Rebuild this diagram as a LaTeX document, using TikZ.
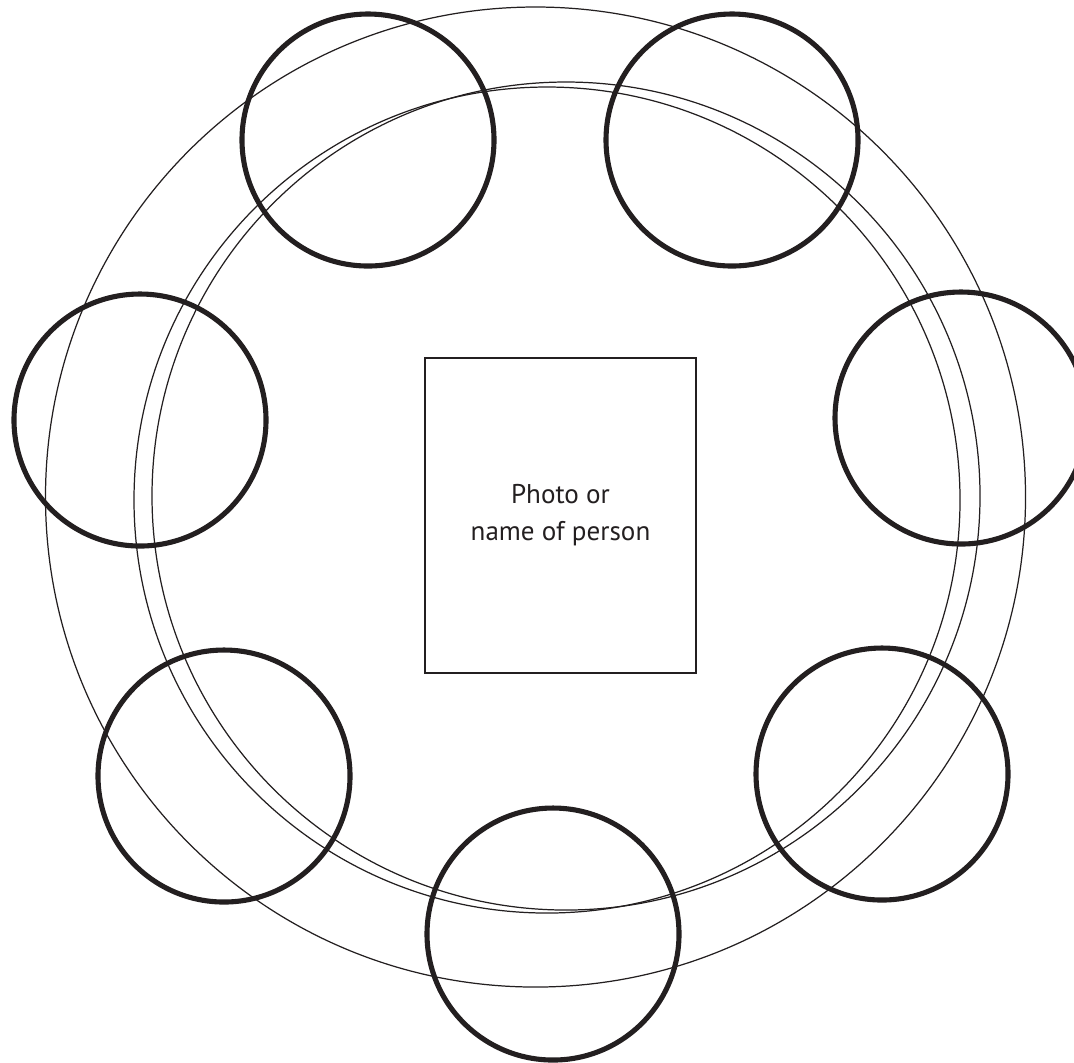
\documentclass[tikz,border=0pt]{standalone}
\usepackage{fontspec}
\setsansfont{PT Sans}
\usepackage{xcolor}
\definecolor{ink}{HTML}{231F20}

\tikzset{
  ring/.style={draw=ink,line width=0.35pt},
  seat/.style={draw=ink,line width=1.45pt},
  photobox/.style={draw=ink,line width=0.55pt,minimum width=2.71cm,minimum height=3.15cm,
    inner sep=0pt,align=center,text=ink,font=\sffamily\fontsize{7.7}{10.5}\selectfont}
}

\begin{document}
\begin{tikzpicture}[x=0.01cm,y=-0.01cm]
  \useasboundingbox (0,0) rectangle (1074,1062);

  % Tisch
  \draw[ring] (535.5,497) circle[radius=490];
  \draw[ring] (547,500) circle[radius=413];
  \draw[ring] (566,496) circle[radius=414];

  % Plaetze rund um den Tisch
  \foreach \x/\y in {368/140,732/140,140/420,961/418,224/776,882/774,553/934} {
    \draw[seat] (\x,\y) circle[radius=126];
  }

  % Mitte
  \node[photobox] (photo) at (560.5,515.5) {Photo or\\name of person};
\end{tikzpicture}
\end{document}
